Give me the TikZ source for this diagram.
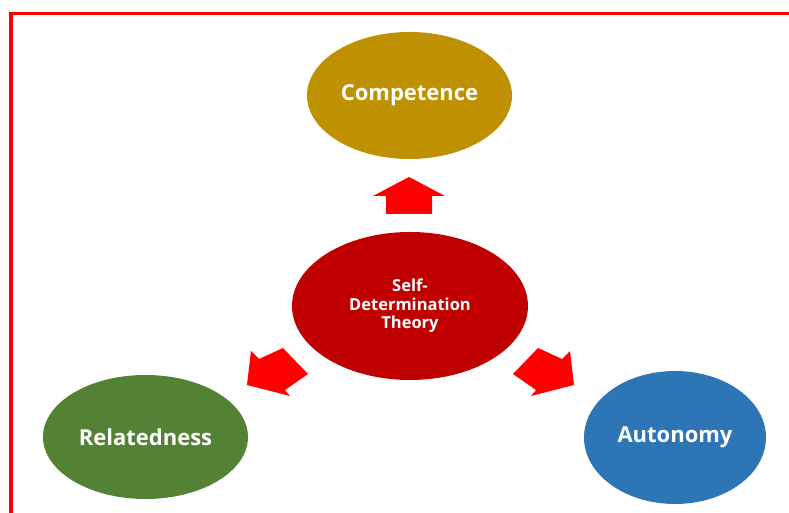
\documentclass[tikz,border=0pt]{standalone}
\usepackage{fontspec}
\setmainfont{Open Sans}
\usetikzlibrary{shapes.geometric}

\definecolor{needgold}{HTML}{BF9000}
\definecolor{theoryred}{HTML}{C00000}
\definecolor{needgreen}{HTML}{548235}
\definecolor{needblue}{HTML}{2E75B6}
\definecolor{arrowred}{HTML}{FF0000}

\begin{document}
\begin{tikzpicture}[
		x=1pt, y=1pt,
		need/.style={ellipse, inner sep=0pt, text=white, font=\bfseries\fontsize{22}{26}\selectfont},
		theory/.style={ellipse, inner sep=0pt, text=white, align=center, font=\bfseries\fontsize{16.5}{18.5}\selectfont},
		blockarrow/.style={fill=arrowred, draw=none},
		frame/.style={draw=arrowred, line width=3.5pt}
		]
		
		% Canvas and red frame (top and left edges)
		\clip (0, 0) rectangle (789, 513);
		\draw[frame] (10.8, -10) -- (10.8, 499.5) -- (800, 499.5);
		
		% Centre and the three needs
		\node[theory, fill=theoryred, minimum width=236pt, minimum height=148pt] (sdt) at (410, 207) {Self-\\Determination\\Theory};
		\node[need, fill=needgold, minimum width=205pt, minimum height=127pt] (competence) at (409.5, 417.5) {Competence};
		\node[need, fill=needgreen, minimum width=205pt, minimum height=124pt] (relatedness) at (145.5, 76) {Relatedness};
		\node[need, fill=needblue, minimum width=182pt, minimum height=133pt] (autonomy) at (675, 75.5) {Autonomy};
		
		% Block arrows
		% up, towards Competence
		\fill[blockarrow] (409, 336) -- (445, 317) -- (432, 317) -- (432, 299)
			-- (386, 299) -- (386, 317) -- (373, 317) -- cycle;
		% down left, towards Relatedness
		\fill[blockarrow] (247, 128) -- (251, 162) -- (259, 154) -- (283, 165)
			-- (308, 139) -- (285, 123) -- (290, 117) -- cycle;
		% down right, towards Autonomy
		\fill[blockarrow] (574, 128) -- (570, 162) -- (562, 154) -- (538, 165)
			-- (513, 139) -- (536, 123) -- (531, 117) -- cycle;
		
	\end{tikzpicture}
\end{document}
